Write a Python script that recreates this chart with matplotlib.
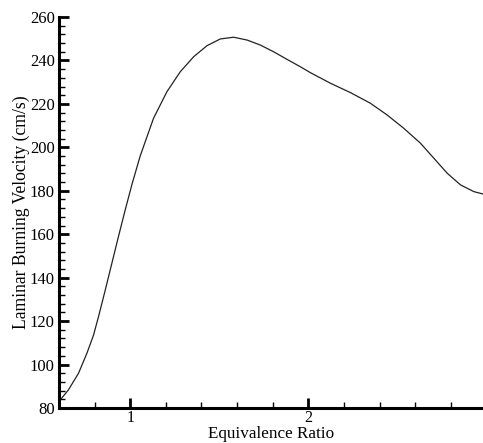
import numpy as np
import matplotlib
matplotlib.use("Agg")
import matplotlib.pyplot as plt
from matplotlib.ticker import MultipleLocator

# equivalence ratio vs laminar burning velocity
phi = [0.607, 0.653, 0.710, 0.757, 0.794, 0.822, 0.860, 0.897, 0.934, 0.972,
       1.010, 1.056, 1.131, 1.206, 1.281, 1.356, 1.431, 1.506, 1.580, 1.656,
       1.730, 1.805, 1.880, 1.955, 2.011, 2.124, 2.236, 2.348, 2.442, 2.535,
       2.629, 2.704, 2.779, 2.854, 2.929, 2.981]
sl = [83.7, 88.3, 96.0, 105.2, 113.5, 122.0, 134.3, 146.6, 158.9, 171.2,
      183.0, 196.0, 213.4, 225.6, 234.8, 241.7, 246.8, 249.9, 250.7, 249.4,
      247.1, 244.0, 240.5, 237.1, 234.4, 229.5, 225.2, 220.3, 214.9, 208.8,
      201.9, 195.0, 188.1, 182.7, 179.6, 178.5]

plt.rcParams['font.family'] = ['Liberation Serif', 'DejaVu Serif']

fig = plt.figure(figsize=(4.83, 4.43), dpi=100)
ax = fig.add_axes([0.122, 0.079, 0.878, 0.8826])

ax.plot(phi, sl, color='#222222', lw=0.9, solid_joinstyle='round')

ax.set_xlim(0.6, 2.98)
ax.set_ylim(80, 260)
ax.xaxis.set_major_locator(MultipleLocator(1))
ax.xaxis.set_minor_locator(MultipleLocator(0.2))
ax.yaxis.set_major_locator(MultipleLocator(20))
ax.yaxis.set_minor_locator(MultipleLocator(4))

for s in ['top', 'right']:
    ax.spines[s].set_visible(False)
for s in ['left', 'bottom']:
    ax.spines[s].set_linewidth(2.2)

ax.tick_params(which='major', direction='in', length=7, width=2, labelsize=12, pad=3)
ax.tick_params(axis='x', which='major', labelsize=11.5, pad=1.5)
ax.tick_params(which='minor', direction='in', length=4, width=1)

ax.set_xlabel('Equivalence Ratio', fontsize=12.3, labelpad=0)
ax.set_ylabel('Laminar Burning Velocity (cm/s)', fontsize=12.7, labelpad=-0.5)

fig.savefig('out.png', dpi=100)
